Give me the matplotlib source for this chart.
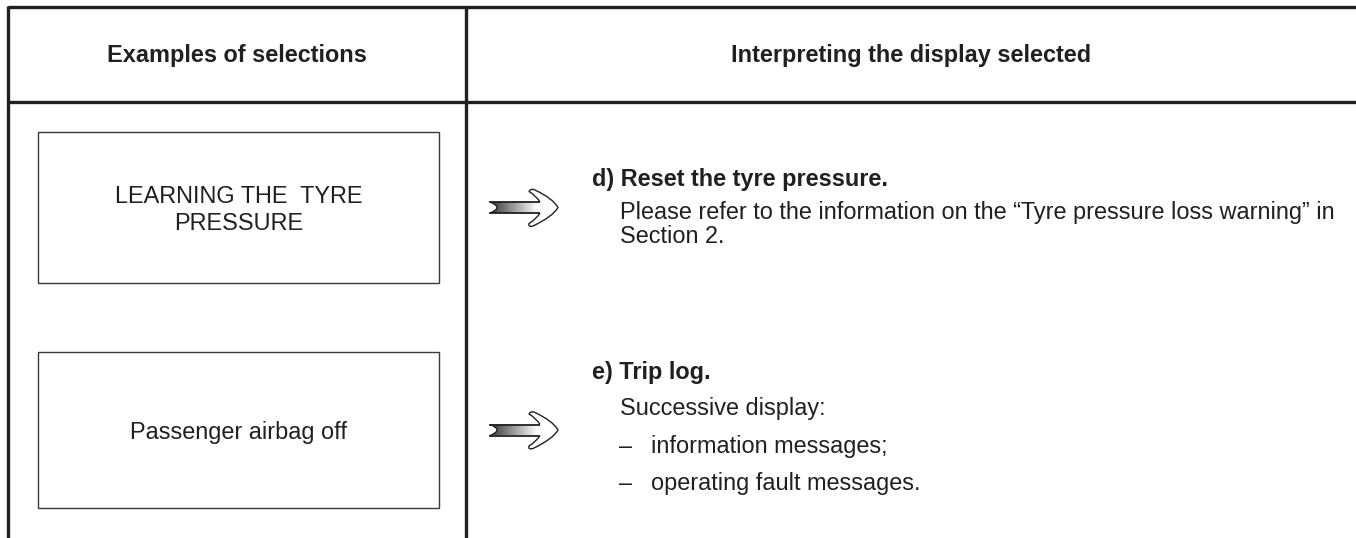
import matplotlib
matplotlib.use("Agg")
import matplotlib.pyplot as plt
import numpy as np
from matplotlib.path import Path
from matplotlib.patches import PathPatch, Rectangle

# ---- content ----
header_labels = ["Examples of selections", "Interpreting the display selected"]
display_lines = [["LEARNING THE  TYRE", "PRESSURE"], ["Passenger airbag off"]]
section_titles = ["d) Reset the tyre pressure.", "e) Trip log."]
section_bodies = [
    ["Please refer to the information on the \u201cTyre pressure loss warning\u201d in",
     "Section 2."],
    ["Successive display:"],
]
section_bullets = [[], ["information messages;", "operating fault messages."]]

W, H = 1356, 538
INK = "#231f20"
FONT = "Liberation Sans"
FS = 16.9

fig = plt.figure(figsize=(W / 100, H / 100), dpi=100)
ax = fig.add_axes([0, 0, 1, 1])
ax.set_xlim(0, W)
ax.set_ylim(H, 0)
ax.axis("off")

# ---- table lines ----
lw = 2.4
ax.plot([8, W], [7, 7], color=INK, lw=lw, solid_capstyle="butt")
ax.plot([8, W], [101.5, 101.5], color=INK, lw=lw, solid_capstyle="butt")
ax.plot([8, 8], [6, H], color=INK, lw=lw, solid_capstyle="butt")
ax.plot([466, 466], [6, H], color=INK, lw=lw, solid_capstyle="butt")

# header labels
ax.text(237, 62, header_labels[0], fontsize=FS, fontweight="bold", family=FONT,
        color=INK, ha="center", va="baseline")
ax.text(911, 62, header_labels[1], fontsize=FS, fontweight="bold", family=FONT,
        color=INK, ha="center", va="baseline")

# ---- display boxes ----
boxes = [(38, 132, 439, 283), (38, 352, 439, 508)]
box_baselines = [[203, 230], [439]]
for (x0, y0, x1, y1), lines, bls in zip(boxes, display_lines, box_baselines):
    ax.add_patch(Rectangle((x0, y0), x1 - x0, y1 - y0, fill=False,
                           edgecolor="#3a3a3a", lw=1.0))
    for t, b in zip(lines, bls):
        ax.text((x0 + x1) / 2, b, t, fontsize=FS, family=FONT, color=INK,
                ha="center", va="baseline")


# ---- arrows ----
def draw_arrow(x0, yc):
    sh = 5.5
    verts = [(x0, yc - sh), (x0 + 14, yc), (x0, yc + sh),
             (x0 + 50, yc + sh), (x0 + 50, yc - sh), (x0, yc - sh)]
    codes = [Path.MOVETO, Path.CURVE3, Path.CURVE3, Path.LINETO, Path.LINETO,
             Path.CLOSEPOLY]
    shaft = PathPatch(Path(verts, codes), facecolor="none", edgecolor="none")
    ax.add_patch(shaft)
    grad = np.linspace(0.22, 1.0, 256).reshape(1, -1)
    im = ax.imshow(grad, cmap="gray", vmin=0, vmax=1, aspect="auto",
                   extent=[x0, x0 + 48, yc + sh, yc - sh], zorder=2,
                   interpolation="bilinear")
    im.set_clip_path(shaft)
    ax.plot([x0, x0 + 50], [yc - sh, yc - sh], color=INK, lw=1.3, zorder=3)
    ax.plot([x0, x0 + 50], [yc + sh, yc + sh], color=INK, lw=1.3, zorder=3)
    notch = Path([(x0, yc - sh), (x0 + 14, yc), (x0, yc + sh)],
                 [Path.MOVETO, Path.CURVE3, Path.CURVE3])
    ax.add_patch(PathPatch(notch, facecolor="none", edgecolor=INK, lw=1.0, zorder=3))
    hv = [(x0 + 50, yc - sh),
          (x0 + 46, yc - 12), (x0 + 39, yc - 16),
          (x0 + 41, yc - 19.5), (x0 + 45, yc - 17.5),
          (x0 + 63, yc - 9), (x0 + 68, yc),
          (x0 + 63, yc + 9), (x0 + 43, yc + 18.5),
          (x0 + 38, yc + 20), (x0 + 39, yc + 16),
          (x0 + 46, yc + 12), (x0 + 50, yc + sh)]
    hc = [Path.MOVETO] + [Path.CURVE3] * 12
    ax.add_patch(PathPatch(Path(hv, hc), facecolor="white", edgecolor=INK,
                           lw=1.0, zorder=3))


draw_arrow(490, 207.5)
draw_arrow(490, 430)

# ---- interpretation text ----
title_baselines = [186, 379]
body_baselines = [[219, 243], [415]]
bullet_baselines = [[], [453, 490]]
for t, tb, body, bb, bullets, ub in zip(section_titles, title_baselines,
                                        section_bodies, body_baselines,
                                        section_bullets, bullet_baselines):
    ax.text(592, tb, t, fontsize=FS, fontweight="bold", family=FONT, color=INK,
            ha="left", va="baseline")
    for line, b in zip(body, bb):
        ax.text(620, b, line, fontsize=FS, family=FONT, color=INK,
                ha="left", va="baseline")
    for line, b in zip(bullets, ub):
        ax.text(619, b, "\u2013", fontsize=FS, family=FONT, color=INK,
                ha="left", va="baseline")
        ax.text(651, b, line, fontsize=FS, family=FONT, color=INK,
                ha="left", va="baseline")

fig.savefig("out.png", dpi=100, facecolor="white")
